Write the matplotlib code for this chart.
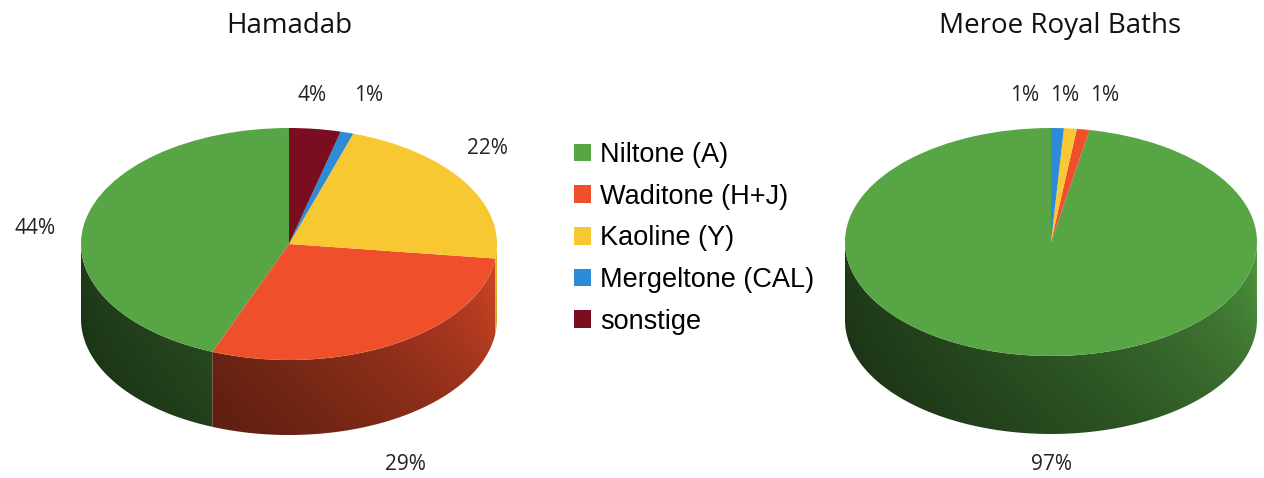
import numpy as np
import matplotlib
matplotlib.use("Agg")
import matplotlib.pyplot as plt
from matplotlib.transforms import Affine2D
from matplotlib.patches import Polygon
from matplotlib.colors import to_rgb

# data
categories = ["Niltone (A)", "Waditone (H+J)", "Kaoline (Y)", "Mergeltone (CAL)", "sonstige"]
colors = ["#58a546", "#ef4f2b", "#f8c832", "#2e8bd7", "#7a0e20"]
titles = ["Hamadab", "Meroe Royal Baths"]
hamadab = [44, 29, 22, 1, 4]
meroe = [97, 1, 1, 1, 0]

# layout (pixels, y down)
pies = [
    dict(values=hamadab, title=titles[0], cx=289, cy=244, a=208, b=116, d=75, tx=289,
         labels=[(-254, -16), (116, 221), (198, -96), (80, -149), (23, -149)]),
    dict(values=meroe, title=titles[1], cx=1051, cy=242, a=206, b=114, d=78, tx=1060,
         labels=[(1, 223), (54, -147), (14, -147), (-26, -147), None]),
]

fig = plt.figure(figsize=(12.64, 4.78), dpi=100)
ax = fig.add_axes([0, 0, 1, 1])

label_font = dict(family="Open Sans", size=15, color="#222222")


def pie3d(p):
    cx, cy, a, b, d = p["cx"], p["cy"], p["a"], p["b"], p["d"]
    wedges, _ = ax.pie(p["values"], colors=colors, startangle=90, counterclock=True,
                       wedgeprops=dict(linewidth=0))
    tr = Affine2D().scale(a, -b).translate(cx, cy) + ax.transData
    for w in wedges:
        w.set_transform(tr)
        w.set_zorder(3)

    # shading grid for the front wall
    xs = np.linspace(cx - a, cx + a, 400)
    ys = np.linspace(cy - 2, cy + b + d + 2, 200)
    X, Y = np.meshgrid(xs, ys)
    t = 360 - np.degrees(np.arccos(np.clip((X - cx) / a, -1, 1)))
    u = (t - 180) / 180
    ytop = cy - b * np.sin(np.radians(t))
    v = np.clip((Y - ytop) / d, 0, 1)
    shade = (0.36 + 0.57 * u ** 2) * (1 - 0.12 * v)

    for w, c in zip(wedges, colors):
        lo, hi = max(w.theta1, 180), min(w.theta2, 360)
        if hi <= lo:
            continue
        ts = np.radians(np.linspace(lo, hi, 200))
        top = np.column_stack([cx + a * np.cos(ts), cy - b * np.sin(ts)])
        bot = top[::-1] + [0, d]
        poly = Polygon(np.vstack([top, bot]), closed=True, facecolor="none",
                       edgecolor="none", transform=ax.transData)
        ax.add_patch(poly)
        img = np.clip(shade[..., None] * np.array(to_rgb(c)), 0, 1)
        im = ax.imshow(img, origin="lower", extent=(xs[0], xs[-1], ys[0], ys[-1]),
                       aspect="auto", interpolation="bilinear", zorder=2)
        im.set_clip_path(poly)

    # percentage labels
    for val, off in zip(p["values"], p["labels"]):
        if off is None:
            continue
        ax.text(cx + off[0], cy + off[1], f"{val}%", ha="center", va="center", **label_font)

    ax.text(p["tx"], 33, p["title"], ha="center", va="baseline",
            family="Open Sans", size=20, color="#111111")
    return wedges


handles = None
for p in pies:
    w = pie3d(p)
    if handles is None:
        handles = w

ax.set_xlim(0, 1264)
ax.set_ylim(478, 0)
ax.set_aspect("auto")
ax.axis("off")

fig.legend(handles, categories, loc="upper left",
           bbox_to_anchor=(574 / 1264, 1 - 142 / 478),
           frameon=False, prop=dict(family="Liberation Sans", size=19.5),
           handlelength=0.63, handleheight=0.63, handletextpad=0.33,
           labelspacing=0.58, borderpad=0, borderaxespad=0)

fig.savefig("out.png", dpi=100)
